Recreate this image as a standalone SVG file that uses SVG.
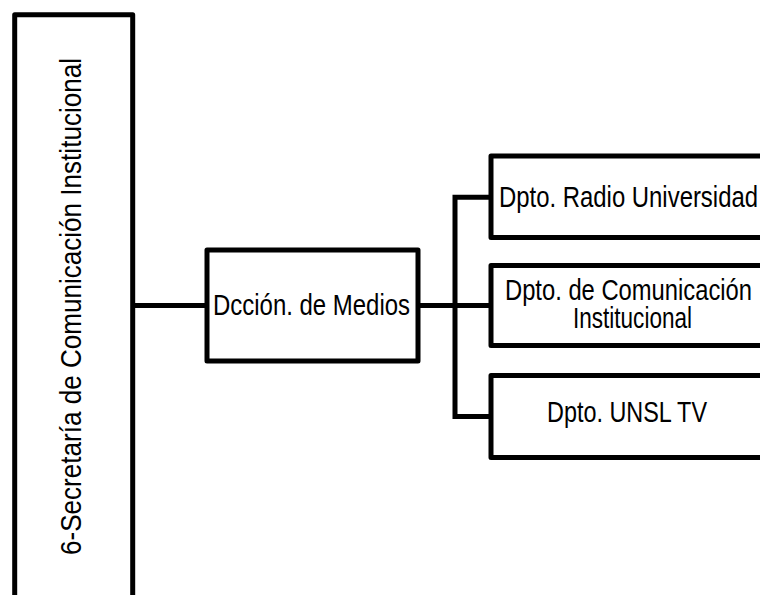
<svg xmlns="http://www.w3.org/2000/svg" width="760" height="595" viewBox="0 0 760 595">
<style>
.box{fill:#fff;stroke:#000;stroke-width:5;stroke-linejoin:round}
.con{fill:none;stroke:#000;stroke-width:5}
.t{font-family:"Liberation Sans Narrow","Arial Narrow","Liberation Sans",Arial,sans-serif;font-size:29px;fill:#000}
</style>
<rect width="760" height="595" fill="#fff"/>
<g id="connectors">
<line class="con" x1="132.7" y1="305.4" x2="207" y2="305.4"/>
<line class="con" x1="418" y1="305.5" x2="491" y2="305.5"/>
<path class="con" d="M491,197.3 H455 V416.5 H491"/>
</g>
<g id="secretaria">
<rect class="box" x="14.7" y="14.7" width="118" height="620"/>
<text class="t" transform="translate(81,306.5) rotate(-90)" x="0" y="0" text-anchor="middle" font-size="31" textLength="497" lengthAdjust="spacingAndGlyphs">6-Secretaría de Comunicación Institucional</text>
</g>
<g id="dccion">
<rect class="box" x="207" y="250" width="211" height="111"/>
<text class="t" x="213" y="315" textLength="197" lengthAdjust="spacingAndGlyphs">Dcción. de Medios</text>
</g>
<g id="radio">
<rect class="box" x="491" y="156" width="300" height="81.5"/>
<text class="t" x="499" y="207" textLength="259" lengthAdjust="spacingAndGlyphs">Dpto. Radio Universidad</text>
</g>
<g id="comunicacion">
<rect class="box" x="491" y="265.5" width="300" height="80"/>
<text class="t" x="505" y="300" textLength="247" lengthAdjust="spacingAndGlyphs">Dpto. de Comunicación</text>
<text class="t" x="573" y="328.3" textLength="119" lengthAdjust="spacingAndGlyphs">Institucional</text>
</g>
<g id="tv">
<rect class="box" x="491" y="375.5" width="300" height="82"/>
<text class="t" x="547" y="421.7" textLength="160" lengthAdjust="spacingAndGlyphs">Dpto. UNSL TV</text>
</g>
</svg>
